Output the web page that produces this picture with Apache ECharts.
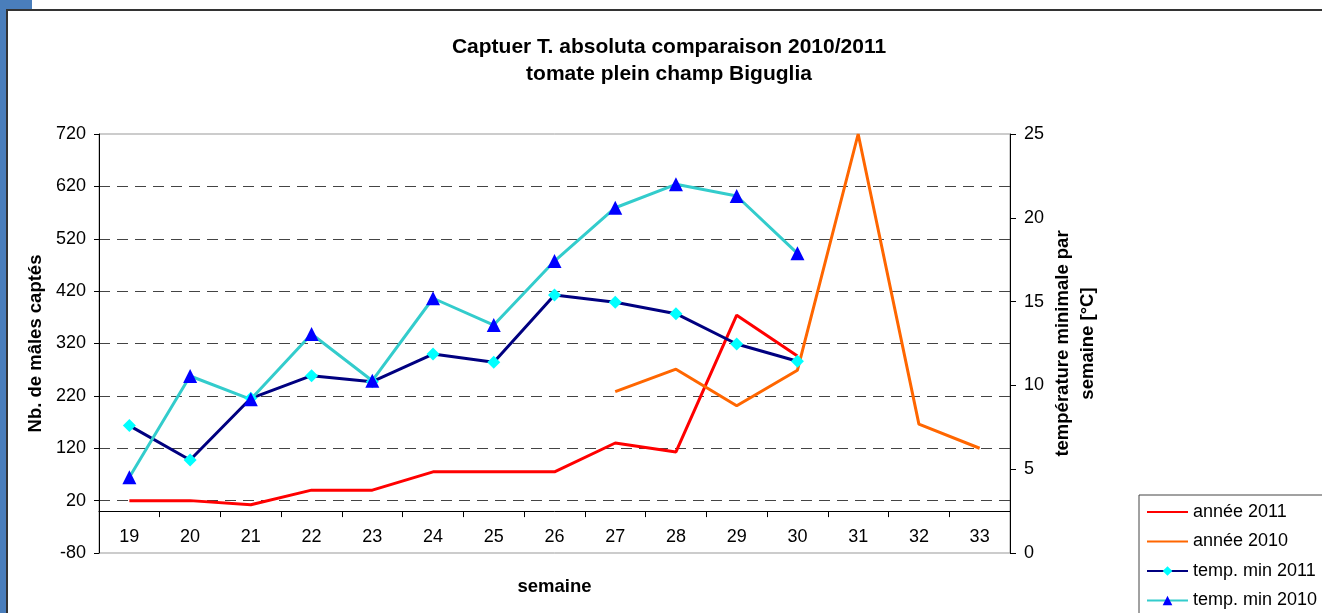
<!DOCTYPE html>
<html>
<head>
<meta charset="utf-8">
<script src="https://cdn.jsdelivr.net/npm/echarts@6/dist/echarts.min.js"></script>
<style>html,body{margin:0;padding:0;background:#fff;}#c{width:1322px;height:613px;}</style>
</head>
<body>
<div id="c"></div>
<script>
var weeks = ['19','20','21','22','23','24','25','26','27','28','29','30','31','32','33'];
var annee2011 = [20, 20, 12, 40, 40, 75, 75, 75, 130, 113, 374, 296, null, null, null];
var annee2010 = [null, null, null, null, null, null, null, null, 228, 271, 201, 269, 720, 166, 120];
var tempMin2011 = [7.6, 5.55, 9.23, 10.58, 10.22, 11.87, 11.38, 15.39, 14.96, 14.28, 12.47, 11.44, null, null, null];
var tempMin2010 = [4.52, 10.56, 9.17, 13.07, 10.28, 15.2, 13.6, 17.42, 20.6, 22.0, 21.3, 17.88, null, null, null];

var FONT = 'Liberation Sans, Arial, sans-serif';
var chart = echarts.init(document.getElementById('c'), null, {renderer: 'canvas'});
chart.setOption({
  animation: false,
  backgroundColor: '#ffffff',
  textStyle: {fontFamily: FONT, color: '#000'},
  title: {
    text: 'Captuer T. absoluta comparaison 2010/2011\ntomate plein champ Biguglia',
    left: 669, top: 34, padding: 0, textAlign: 'center',
    textStyle: {fontFamily: FONT, fontSize: 21, fontWeight: 'bold', color: '#000', lineHeight: 27}
  },
  legend: {
    orient: 'vertical', left: 1139, top: 495, height: 140,
    padding: [8, 12, 8, 7], itemGap: 11.5, itemWidth: 41, itemHeight: 12,
    backgroundColor: '#fff', borderColor: '#444', borderWidth: 1, borderRadius: 0,
    textStyle: {fontFamily: FONT, fontSize: 18, color: '#000'},
    data: [
      {name: 'année 2011', itemStyle: {opacity: 0}},
      {name: 'année 2010', itemStyle: {opacity: 0}},
      'temp. min 2011', 'temp. min 2010'
    ]
  },
  grid: {left: 99, right: 312, top: 134, bottom: 60, show: true, borderColor: '#999', borderWidth: 1, containLabel: false, outerBoundsMode: 'none'},
  xAxis: {
    type: 'category', data: weeks, boundaryGap: true,
    name: 'semaine', nameLocation: 'middle', nameGap: 24,
    nameTextStyle: {fontFamily: FONT, fontSize: 18.5, fontWeight: 'bold', color: '#000'},
    axisLine: {onZero: true, onZeroAxisIndex: 0, lineStyle: {color: '#000', width: 1}},
    axisTick: {show: true, inside: false, length: 6, alignWithLabel: false, lineStyle: {color: '#000'}},
    axisLabel: {fontFamily: FONT, fontSize: 18, color: '#000', margin: -25, interval: 0},
    splitLine: {show: false}
  },
  yAxis: [{
    type: 'value', position: 'left', min: -80, max: 720, interval: 100,
    name: 'Nb. de mâles captés', nameLocation: 'middle', nameGap: 54, nameRotate: 90,
    nameTextStyle: {fontFamily: FONT, fontSize: 18.5, fontWeight: 'bold', color: '#000'},
    axisLine: {show: true, lineStyle: {color: '#000', width: 1}},
    axisTick: {show: true, inside: false, length: 5, lineStyle: {color: '#000'}},
    axisLabel: {fontFamily: FONT, fontSize: 18, color: '#000', margin: 13},
    splitLine: {show: true, showMinLine: false, showMaxLine: false, lineStyle: {color: '#444', type: [11, 7], width: 1}}
  }, {
    type: 'value', position: 'right', min: 0, max: 25, interval: 5,
    name: 'température minimale par\nsemaine [°C]', nameLocation: 'middle', nameGap: 40, nameRotate: 90,
    nameMoveOverlap: false,
    nameTextStyle: {fontFamily: FONT, fontSize: 18.5, fontWeight: 'bold', color: '#000', lineHeight: 25},
    axisLine: {show: true, lineStyle: {color: '#000', width: 1}},
    axisTick: {show: true, inside: false, length: 6, lineStyle: {color: '#000'}},
    axisLabel: {fontFamily: FONT, fontSize: 18, color: '#000', margin: 14},
    splitLine: {show: false}
  }],
  series: [{
    name: 'année 2011', type: 'line', yAxisIndex: 0, data: annee2011,
    showSymbol: false, symbol: 'none', connectNulls: false,
    lineStyle: {color: '#ff0000', width: 3}, itemStyle: {color: '#ff0000'}
  }, {
    name: 'année 2010', type: 'line', yAxisIndex: 0, data: annee2010,
    showSymbol: false, symbol: 'none', connectNulls: false,
    lineStyle: {color: '#ff6600', width: 3}, itemStyle: {color: '#ff6600'}
  }, {
    name: 'temp. min 2011', type: 'line', yAxisIndex: 1, data: tempMin2011,
    symbol: 'diamond', symbolSize: 13,
    lineStyle: {color: '#000080', width: 3}, itemStyle: {color: '#00ffff', borderWidth: 0}
  }, {
    name: 'temp. min 2010', type: 'line', yAxisIndex: 1, data: tempMin2010,
    symbol: 'triangle', symbolSize: 14,
    lineStyle: {color: '#33cccc', width: 3}, itemStyle: {color: '#0000ff', borderWidth: 0}
  }],
  graphic: [
    {type: 'rect', shape: {x: 0, y: 0, width: 6, height: 613}, style: {fill: '#4a7ebb'}, silent: true},
    {type: 'rect', shape: {x: 0, y: 0, width: 32, height: 9}, style: {fill: '#4a7ebb'}, silent: true},
    {type: 'line', shape: {x1: 6, y1: 10, x2: 1322, y2: 10}, style: {stroke: '#333', lineWidth: 2}, silent: true},
    {type: 'line', shape: {x1: 7, y1: 9, x2: 7, y2: 613}, style: {stroke: '#333', lineWidth: 2}, silent: true}
  ]
});
</script>
</body>
</html>
